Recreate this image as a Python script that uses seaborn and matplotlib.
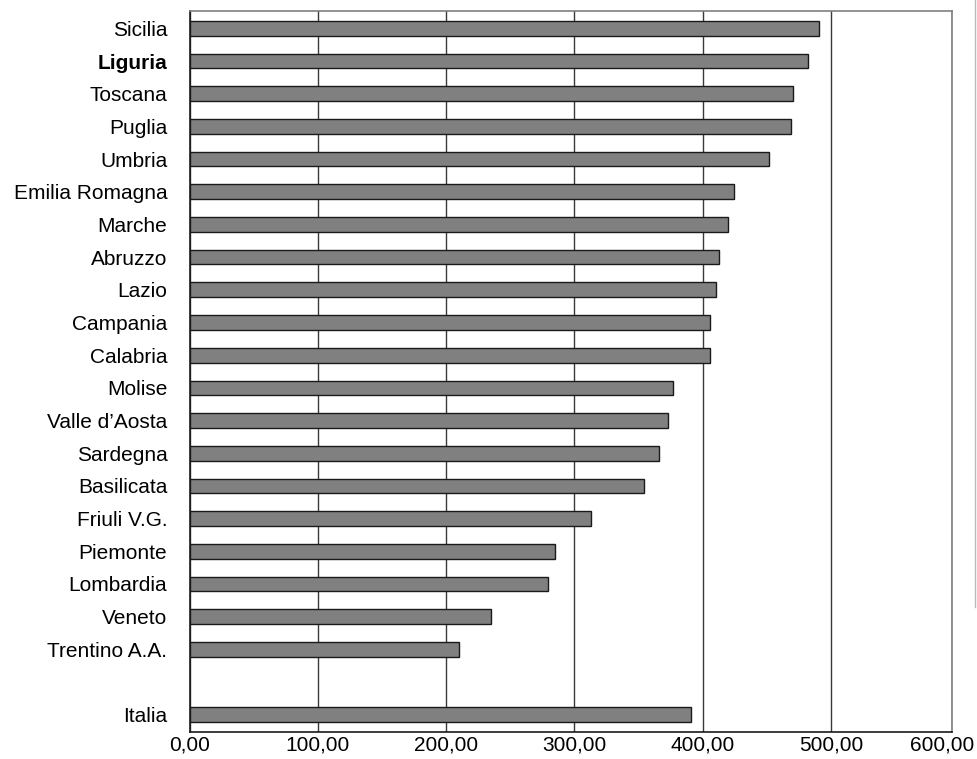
import seaborn as sns
import pandas as pd
import matplotlib.pyplot as plt
from matplotlib.lines import Line2D
from matplotlib.transforms import ScaledTranslation

# values
regions = ["Sicilia", "Liguria", "Toscana", "Puglia", "Umbria", "Emilia Romagna",
           "Marche", "Abruzzo", "Lazio", "Campania", "Calabria", "Molise",
           "Valle d\u2019Aosta", "Sardegna", "Basilicata", "Friuli V.G.", "Piemonte",
           "Lombardia", "Veneto", "Trentino A.A.", "Italia"]
values = [490.9, 481.9, 470.2, 468.6, 451.8, 424.0, 420.0, 413.0, 410.3, 406.0,
          406.0, 376.8, 372.9, 365.6, 354.5, 312.7, 285.0, 279.5, 234.9, 209.7, 391.0]
# empty slot between the regions and Italia
order = regions[:-1] + [" "] + regions[-1:]
xtick_vals = [0, 100, 200, 300, 400, 500, 594]
xtick_labels = ["0,00", "100,00", "200,00", "300,00", "400,00", "500,00", "600,00"]

df = pd.DataFrame({"regione": regions, "valore": values})

plt.rcParams["font.family"] = ["Liberation Sans", "DejaVu Sans"]

fig, ax = plt.subplots(figsize=(9.77, 7.59), dpi=100)
fig.subplots_adjust(left=0.194, right=0.974, top=0.985, bottom=0.036)

sns.barplot(ax=ax, data=df, x="valore", y="regione", order=order,
            color="#808080", saturation=1, width=0.45,
            edgecolor="#1a1a1a", linewidth=1)

# vertical grid lines behind the bars
ax.set_axisbelow(True)
ax.grid(axis="x", color="#3a3a3a", linewidth=1)
ax.grid(axis="y", visible=False)

ax.set_xlim(0, 594)
ax.set_ylim(len(order) - 0.48, -0.52)
ax.set_xticks(xtick_vals)
ax.set_xticklabels(xtick_labels, fontsize=15)
ax.tick_params(axis="x", length=0, pad=3)
ax.tick_params(axis="y", length=0, pad=16, labelsize=15)
ax.set_xlabel("")
ax.set_ylabel("")

# last label sits against the right edge so it stays inside the picture
last = ax.get_xticklabels()[-1]
last.set_horizontalalignment("right")
last.set_transform(last.get_transform() + ScaledTranslation(0.23, 0, fig.dpi_scale_trans))

for lbl in ax.get_yticklabels():
    if lbl.get_text() == "Liguria":
        lbl.set_fontweight("bold")

for side in ["left", "bottom"]:
    ax.spines[side].set_color("#1a1a1a")
    ax.spines[side].set_linewidth(1.2)
for side in ["top", "right"]:
    ax.spines[side].set_color("#808080")
    ax.spines[side].set_linewidth(1.2)

# thin border line at the right edge of the original picture
fig.add_artist(Line2D([0.998, 0.998], [0.2, 1.0], transform=fig.transFigure,
                      color="#bbbbbb", linewidth=1))

plt.savefig("out.png", dpi=100)
